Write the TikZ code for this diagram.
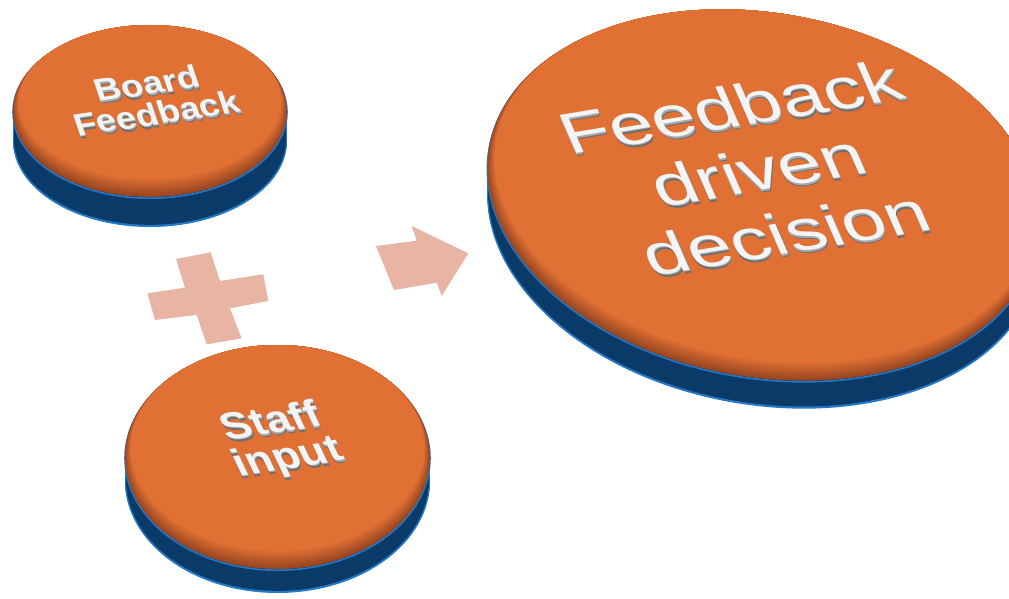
\documentclass[tikz,border=0pt]{standalone}
\usepackage{fontspec}
\setmainfont{Liberation Sans}
\definecolor{topor}{HTML}{E07033}
\definecolor{toprim}{HTML}{9A4722}
\definecolor{sidenavy}{HTML}{0A3A68}
\definecolor{sideedge}{HTML}{2478C8}
\definecolor{signpink}{HTML}{E8B4A3}
\definecolor{txtwhite}{HTML}{F4F4F4}
\definecolor{txtmid}{HTML}{A8A8A8}
\definecolor{txtshade}{HTML}{6E6E6E}
\tikzset{
  bigtext/.style={font=\fontsize{78}{89}\selectfont, align=center, inner sep=0pt, rotate=9.5, xslant=-0.25, yscale=0.75},
  boardtext/.style={font=\bfseries\fontsize{36}{35}\selectfont, align=center, inner sep=0pt, rotate=8.4, xslant=-0.18, yscale=0.88},
  stafftext/.style={font=\bfseries\fontsize{44}{42}\selectfont, align=center, inner sep=0pt, rotate=8.7, xslant=-0.3, yscale=0.88},
  signshape/.style={fill=signpink, draw=none},
}
% #1 name, #2 cx, #3 cy, #4 rx, #5 ry, #6 angle, #7 thickness
\newcommand\mkdisk[7]{%
  \pgfmathtruncatemacro\dthick{#7}%
  \pgfmathtruncatemacro\dthin{#7-1}%
  \foreach \t in {0,1,...,\dthick}{%
    \fill[sideedge, rotate around={#6:(#2,{#3+\t})}] (#2,{#3+\t}) ellipse [x radius=#4, y radius=#5];}%
  \foreach \t in {0,1,...,\dthin}{%
    \fill[sidenavy, rotate around={#6:(#2,{#3+\t})}] (#2,{#3+\t}) ellipse [x radius={#4-1.2}, y radius={#5-1.2}];}%
  \draw[sideedge, line width=1.6pt, rotate around={#6:(#2,{#3+1.2})}] (#2,{#3+1.2}) ellipse [x radius=#4, y radius=#5];%
  \foreach \i in {0,...,8}{%
    \pgfmathtruncatemacro\pct{\i*100/8}%
    \fill[topor!\pct!toprim, rotate around={#6:(#2,#3)}] (#2,{#3-\i*1.1}) ellipse [x radius={#4-\i*0.7}, y radius={#5-\i*1.1}];}%
  \coordinate (#1) at (#2,#3);%
}
% #1 name, #2 style, #3 x, #4 y, #5 text
\newcommand\shtext[5]{%
  \node[#2, text=txtshade] (#1s) at ({#3+1.2},{#4+3}) {#5};%
  \node[#2, text=txtmid] (#1m) at ({#3+0.6},{#4+1.5}) {#5};%
  \node[#2, text=txtwhite] (#1) at (#3,#4) {#5};%
}
\begin{document}
\begin{tikzpicture}[x=1pt,y=-1pt]
\useasboundingbox (0,0) rectangle (1009,599);
\clip (0,0) rectangle (1009,599);

\mkdisk{board}{150}{111}{137}{86}{0}{30}
\mkdisk{staff}{277.5}{457}{152.5}{112}{0}{24}
\mkdisk{decision}{763}{195}{278}{182}{-10}{28}

% plus sign
\fill[signshape] (176,259) -- (210.7,252.3) -- (220,281) -- (263.3,274.3) -- (268.3,301) -- (230,308.3)
  -- (241.7,338.3) -- (206.7,344.3) -- (196.7,315) -- (155,320) -- (147.3,293.3) -- (185,287.7) -- cycle;
% block arrow
\fill[signshape] (376,246) -- (416.7,240.7) -- (411.7,226) -- (468.3,253.3) -- (441.7,296) -- (436.7,282.7)
  -- (394,290) -- cycle;

\shtext{tboard}{boardtext}{151.7}{98.3}{Board\\Feedback}
\shtext{tstaff}{stafftext}{280}{441}{Staff\\input}
\shtext{tdec}{bigtext}{758}{170}{Feedback\\driven\\decision}
\end{tikzpicture}
\end{document}
